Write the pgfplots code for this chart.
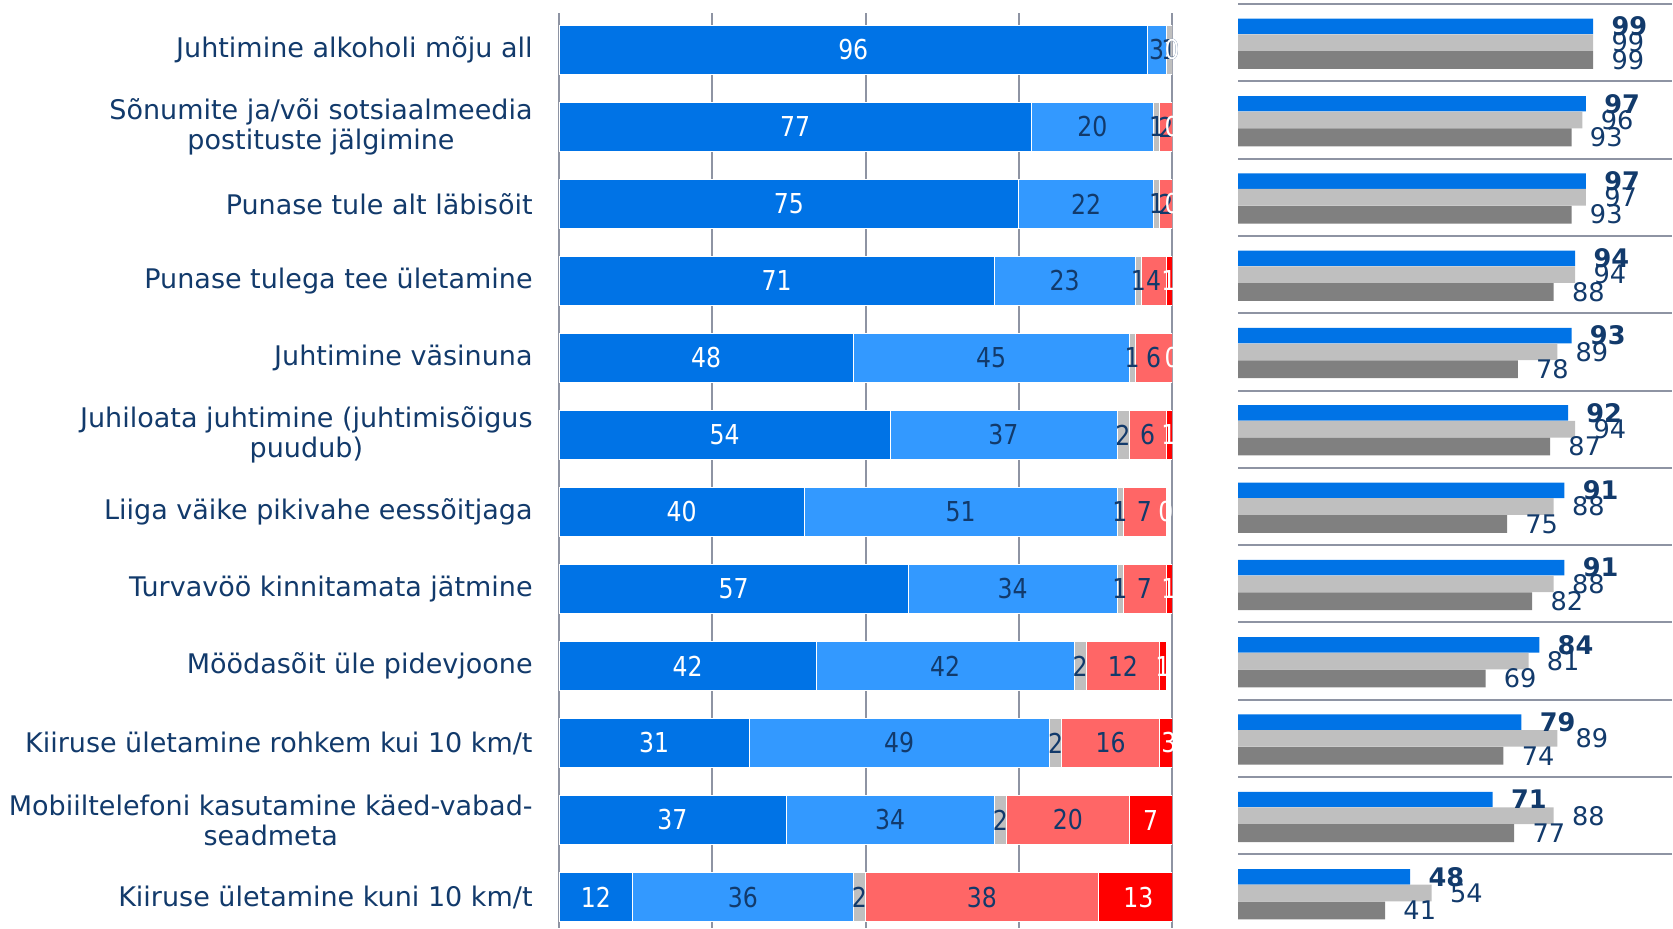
\documentclass[border=0pt]{standalone}
\usepackage{pgfplots}
\pgfplotsset{compat=1.18}
\usepackage{pgfplotstable}
\usepackage{fontspec}
\setmainfont{DejaVu Sans}
\newfontfamily\numfont[FakeStretch=0.86]{DejaVu Sans}
\definecolor{navy}{HTML}{123A6B}
\definecolor{dblue}{HTML}{0073E6}
\definecolor{lblue}{HTML}{3399FF}
\definecolor{sgray}{HTML}{BFBFBF}
\definecolor{lred}{HTML}{FF6666}
\definecolor{sred}{HTML}{FF0000}
\definecolor{dgray}{HTML}{808080}
\definecolor{gridc}{HTML}{8E94A3}

\pgfplotstableread{
row a b c d e
1 96 3 1 0 0
2 77 20 1 2 0
3 75 22 1 2 0
4 71 23 1 4 1
5 48 45 1 6 0
6 54 37 2 6 1
7 40 51 1 7 0
8 57 34 1 7 1
9 42 42 2 12 1
10 31 49 2 16 3
11 37 34 2 20 7
12 12 36 2 38 13
}\lefttab

\pgfplotstableread{
row cur prev old
1 99 99 99
2 97 96 93
3 97 97 93
4 94 94 88
5 93 89 78
6 92 94 87
7 91 88 75
8 91 88 82
9 84 81 69
10 79 89 74
11 71 88 77
12 48 54 41
}\righttab

\pgfplotsset{
  seg/.style={fill=#1, draw=white, line width=0.3pt},
  lab/.style={
    draw=none, no markers,
    nodes near coords, point meta=explicit symbolic,
    nodes near coords align={center},
    nodes near coords style={font=\fontsize{13.7}{14}\numfont, text=#1, anchor=center, inner sep=0pt},
  },
  rlab/.style={
    nodes near coords, point meta=explicit symbolic,
    nodes near coords style={font=\fontsize{12.8}{13}\selectfont#1, text=navy, anchor=west, inner sep=0pt, xshift=9pt},
  },
  leftgeom/.style={
    at={(279.5pt,-6.5pt)}, anchor=north west,
    scale only axis, width=306.5pt, height=457.4pt,
    xmin=0, xmax=100, ymin=0.52, ymax=12.4, y dir=reverse,
  },
}

\begin{document}
\begin{tikzpicture}
\useasboundingbox (0,0) rectangle (836.5pt,-464pt);
\begin{axis}[
  leftgeom,
  xbar stacked, bar width=0.64,
  axis line style={draw=none}, major tick length=0pt,
  xtick={0,25,50,75,100}, xticklabels={},
  xmajorgrids, grid style={gridc, line width=1pt},
  ytick={1,...,12},
  yticklabels={
    {Juhtimine alkoholi mõju all},
    {Sõnumite ja/või sotsiaalmeedia\\postituste jälgimine},
    {Punase tule alt läbisõit},
    {Punase tulega tee ületamine},
    {Juhtimine väsinuna},
    {Juhiloata juhtimine (juhtimisõigus\\puudub)},
    {Liiga väike pikivahe eessõitjaga},
    {Turvavöö kinnitamata jätmine},
    {Möödasõit üle pidevjoone},
    {Kiiruse ületamine rohkem kui 10 km/t},
    {Mobiiltelefoni kasutamine käed-vabad-\\seadmeta},
    {Kiiruse ületamine kuni 10 km/t}},
  yticklabel style={font=\fontsize{13.5}{15}\selectfont, text=navy, align=center, anchor=east, inner sep=0pt, xshift=-13pt},
]
\addplot[seg=dblue] table[x=a, y=row] \lefttab;
\addplot[seg=lblue] table[x=b, y=row] \lefttab;
\addplot[seg=sgray] table[x=c, y=row] \lefttab;
\addplot[seg=lred] table[x=d, y=row] \lefttab;
\addplot[seg=sred] table[x=e, y=row] \lefttab;
\end{axis}

% value labels, centred in each segment
\begin{axis}[leftgeom, hide axis, clip=false]
\addplot[lab=white] table[x expr={\thisrow{a}/2}, y=row, meta=a] \lefttab;
\addplot[lab=navy] table[x expr={\thisrow{a}+\thisrow{b}/2}, y=row, meta=b] \lefttab;
\addplot[lab=navy] table[x expr={\thisrow{a}+\thisrow{b}+\thisrow{c}/2}, y=row, meta=c] \lefttab;
\addplot[lab=navy] table[x expr={\thisrow{a}+\thisrow{b}+\thisrow{c}+\thisrow{d}/2}, y=row, meta=d] \lefttab;
\addplot[lab=white] table[x expr={min(100,\thisrow{a}+\thisrow{b}+\thisrow{c}+\thisrow{d}+\thisrow{e}/2)}, y=row, meta=e] \lefttab;
\end{axis}

\begin{axis}[
  at={(619pt,-2pt)}, anchor=north west,
  scale only axis, width=217pt, height=461.9pt,
  xbar, xmin=0, xmax=121, ymin=0.5, ymax=12.45, y dir=reverse,
  axis line style={draw=none}, major tick length=0pt,
  xtick=\empty, ytick={0.5,1.5,...,11.5}, yticklabels={},
  ymajorgrids, grid style={gridc, line width=1pt},
  clip=false,
]
\addplot[xbar, fill=dblue, draw=none, bar width=0.2, bar shift=-0.21, rlab=\bfseries] table[x=cur, y=row, meta=cur] \righttab;
\addplot[xbar, fill=sgray, draw=none, bar width=0.215, bar shift=0, rlab=] table[x=prev, y=row, meta=prev] \righttab;
\addplot[xbar, fill=dgray, draw=none, bar width=0.23, bar shift=0.225, rlab=] table[x=old, y=row, meta=old] \righttab;
\end{axis}
\end{tikzpicture}
\end{document}
